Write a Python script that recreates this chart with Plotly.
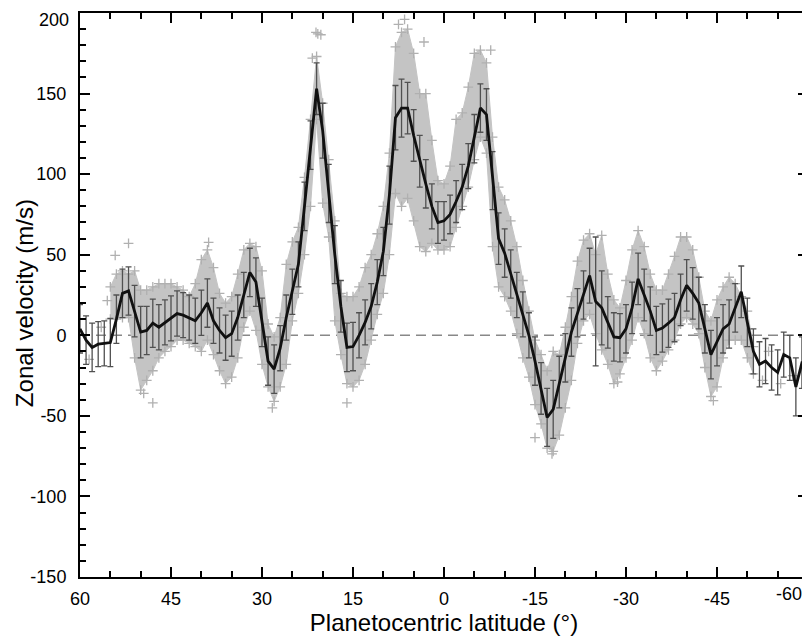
import plotly.graph_objects as go

# ---- binned mean profile (1 degree bins) ----
lat = [60, 59, 58, 57, 56, 55, 54, 53, 52, 51, 50, 49, 48, 47, 46, 45, 44, 43, 42, 41,
       40, 39, 38, 37, 36, 35, 34, 33, 32, 31, 30, 29, 28, 27, 26, 25, 24, 23, 22, 21,
       20, 19, 18, 17, 16, 15, 14, 13, 12, 11, 10, 9, 8, 7, 6, 5, 4, 3, 2, 1,
       0, -1, -2, -3, -4, -5, -6, -7, -8, -9, -10, -11, -12, -13, -14, -15, -16, -17, -18, -19,
       -20, -21, -22, -23, -24, -25, -26, -27, -28, -29, -30, -31, -32, -33, -34, -35, -36, -37, -38, -39,
       -40, -41, -42, -43, -44, -45, -46, -47, -48, -49, -50, -51, -52, -53, -54, -55, -56, -57, -58, -59, -60]
vel = [4, -3, -7.5, -5.5, -5, -4.5, 10, 26, 27.5, 15, 2, 3, 7.5, 5, 8, 10.5, 13.5, 12.5, 11, 9,
       14, 20, 9, 3, -1.5, 1, 11, 25, 39, 33, 8, -16, -21, -8, 11, 27, 44, 80, 118, 153,
       127, 88, 50, 18, -7.5, -7, 0, 8, 18, 33, 52, 87, 135, 141, 141, 124, 108, 94, 80, 70,
       71, 75, 83, 92, 105, 122, 141, 137, 96, 60, 51, 38, 25, 13, 0, -16, -33, -51, -46, -29,
       -14, 2, 14, 25, 37, 21, 17, 8, -1, -1.5, 4, 17, 35, 25, 15, 3, 4.5, 7.5, 11, 22,
       31, 26, 20, 4, -12, -4, 4, 7, 17, 27, 8, -10, -18, -16, -20, -23, -12, -14, -32, -17, -17]
err = [15, 15, 15, 14, 14, 15, 15, 15, 15, 16, 16, 15, 15, 14, 14, 14, 14, 14, 14, 14,
       14, 15, 14, 14, 14, 14, 14, 14, 15, 15, 15, 15, 15, 14, 14, 14, 14, 15, 15, 16,
       17, 18, 18, 16, 15, 15, 14, 14, 14, 14, 15, 18, 20, 18, 16, 16, 16, 15, 14, 13,
       12, 12, 13, 14, 14, 15, 15, 16, 18, 16, 15, 15, 14, 14, 14, 15, 16, 18, 18, 16,
       15, 15, 15, 15, 17, 40, 23, 16, 15, 15, 15, 16, 16, 16, 15, 15, 15, 15, 15, 16,
       16, 16, 16, 15, 15, 15, 15, 15, 15, 16, 15, 14, 14, 14, 14, 14, 14, 14, 18, 16, 16]

# ---- envelope of individual measurements (gray crosses) ----
cloud_lat = [55, 54, 53, 52, 51, 50, 49, 48, 47, 46, 45, 44, 43, 42, 41, 40, 39, 38, 37, 36,
             35, 34, 33, 32, 31, 30, 29, 28, 27, 26, 25, 24, 23, 22, 21, 20, 19, 18, 17, 16,
             15, 14, 13, 12, 11, 10, 9, 8, 7, 6, 5, 4, 3, 2, 1, 0, -1, -2, -3, -4,
             -5, -6, -7, -8, -9, -10, -11, -12, -13, -14, -15, -16, -17, -18, -19, -20, -21, -22, -23, -24,
             -25, -26, -27, -28, -29, -30, -31, -32, -33, -34, -35, -36, -37, -38, -39, -40, -41, -42, -43, -44,
             -45, -46, -47, -48, -49, -50, -51]
cloud_hi = [30, 38, 40, 38, 40, 28, 28, 30, 32, 32, 32, 30, 28, 24, 32, 47, 53, 42, 26, 20,
            24, 38, 53, 57, 55, 40, 7, -1, 11, 44, 58, 67, 98, 134, 173, 144, 109, 71, 26, 24,
            24, 30, 42, 50, 63, 80, 113, 179, 188, 190, 175, 150, 150, 121, 96, 94, 105, 134, 138, 154,
            175, 177, 169, 123, 92, 84, 71, 55, 34, 15, -3, -12, -22, -10, -12, 5, 24, 46, 59, 63,
            50, 62, 38, 22, 17, 34, 53, 65, 55, 38, 28, 28, 38, 49, 61, 61, 53, 36, 15, 9,
            22, 30, 36, 32, 24, 15, -7]
cloud_lo = [10, 10, 11, 11, -14, -34, -28, -22, -14, -10, -7, -3, -3, -5, -7, -10, -3, -12, -22, -30,
            -26, -14, 5, 15, 3, -18, -32, -41, -32, -18, 9, 26, 50, 80, 134, 82, 61, 9, -12, -30,
            -32, -28, -18, -3, 13, 26, 50, 88, 80, 85, 71, 55, 52, 57, 53, 53, 55, 67, 80, 92,
            109, 123, 113, 55, 30, 24, 15, 1, -14, -26, -43, -55, -70, -72, -62, -45, -28, -5, 9, 13,
            1, -9, -18, -30, -24, -14, -3, 11, 1, -14, -22, -16, -9, -3, 7, 11, 7, 1, -20, -38,
            -32, -14, -3, -3, -3, -14, -24]

# scattered individual measurements outside the dense band
out_lat = [54.2, 52.0, 55.5, 38.8, 21.1, 20.8, 21.7, 20.3, 3.3, -7.7, 49.5, 48.0, 28.3, 16.0,
           -17.8, -15.0, -44.4, -28.6, 6.5, 7.5, -53.5, -55.5, -57.5, -52.5, 58.5, 56.5]
out_vel = [49.6, 57.0, 21.5, 57.6, 188, 187, 172, 186.5, 182, 177, -36, -42, -45, -42,
           -73.6, -63.5, -40.6, -29, 196, 193, -10, -30, -25, -28, -15, 5]

zero_lat = [60, -60]
zero_vel = [0, 0]

x_ticks = [60, 45, 30, 15, 0, -15, -30, -45, -60]
x_labels = ["60", "45", "30", "15", "0", "-15", "-30", "-45", ""]
last_x_label = "-60"
y_ticks = [-150, -100, -50, 0, 50, 100, 150, 200]
y_labels = ["-150", "-100", "-50", "0", "50", "100", "150", ""]
top_y_label = "200"

CROSS = "#b0b0b0"
BAND = "rgb(196,196,196)"
FONT = "Liberation Sans, Arial, sans-serif"

fig = go.Figure()

fig.add_trace(go.Scatter(x=zero_lat, y=zero_vel, mode="lines",
                         line=dict(color="#888888", width=1.6, dash="10px,6px"),
                         hoverinfo="skip", showlegend=False))

fig.add_trace(go.Scatter(x=cloud_lat + cloud_lat[::-1], y=cloud_hi + cloud_lo[::-1],
                         mode="lines", fill="toself", fillcolor=BAND,
                         line=dict(color=BAND, width=1),
                         hoverinfo="skip", showlegend=False))

fig.add_trace(go.Scatter(x=cloud_lat + cloud_lat, y=cloud_hi + cloud_lo, mode="markers",
                         marker=dict(symbol="cross-thin", size=7, line=dict(color=CROSS, width=1.3)),
                         hoverinfo="skip", showlegend=False))

fig.add_trace(go.Scatter(x=out_lat, y=out_vel, mode="markers",
                         marker=dict(symbol="cross-thin", size=7, line=dict(color=CROSS, width=1.3)),
                         hoverinfo="skip", showlegend=False))

fig.add_trace(go.Scatter(x=lat, y=vel, mode="lines",
                         line=dict(color="#111111", width=2.8),
                         error_y=dict(type="data", array=err, visible=True,
                                      color="#505050", thickness=1.3, width=3),
                         showlegend=False))

axis_common = dict(showline=True, linecolor="black", linewidth=2, mirror="ticks",
                   ticks="inside", tickcolor="black", tickwidth=2, ticklen=10,
                   showgrid=False, zeroline=False, automargin=False,
                   ticklabeloverflow="allow",
                   tickfont=dict(family=FONT, size=18, color="black"))

fig.update_xaxes(range=[60, -60], tickmode="array", tickvals=x_ticks, ticktext=x_labels,
                 minor=dict(dtick=5, ticks="inside", ticklen=6, tickwidth=1.5, tickcolor="black"),
                 ticklabelstandoff=4,
                 title=dict(text="Planetocentric latitude (°)", standoff=4,
                            font=dict(family=FONT, size=24, color="black")),
                 **axis_common)
fig.update_yaxes(range=[-150, 200], tickmode="array", tickvals=y_ticks, ticktext=y_labels,
                 minor=dict(dtick=10, ticks="inside", ticklen=6, tickwidth=1.5, tickcolor="black"),
                 ticklabelstandoff=8,
                 **axis_common)

# end tick labels kept fully inside the window, as in the original
fig.add_annotation(text=last_x_label, showarrow=False,
                   xref="paper", yref="paper", x=1.0, y=0,
                   xanchor="right", yanchor="top", xshift=-4, yshift=-5,
                   font=dict(family=FONT, size=18, color="black"))
fig.add_annotation(text=top_y_label, showarrow=False,
                   xref="paper", yref="paper", x=0, y=1,
                   xanchor="right", yanchor="top", xshift=-9, yshift=5,
                   font=dict(family=FONT, size=18, color="black"))

fig.add_annotation(text="Zonal velocity (m/s)", textangle=-90, showarrow=False,
                   xref="paper", yref="paper", x=-0.076, y=0.485,
                   xanchor="center", yanchor="middle",
                   font=dict(family=FONT, size=24, color="black"))

# the page adds an 8px body margin, so the figure is sized to fit the 810x639 window
fig.update_layout(width=802, height=631, margin=dict(l=72, r=2, t=5, b=62),
                  paper_bgcolor="white", plot_bgcolor="white",
                  font=dict(family=FONT, color="black"))

fig.write_html("out.html")
